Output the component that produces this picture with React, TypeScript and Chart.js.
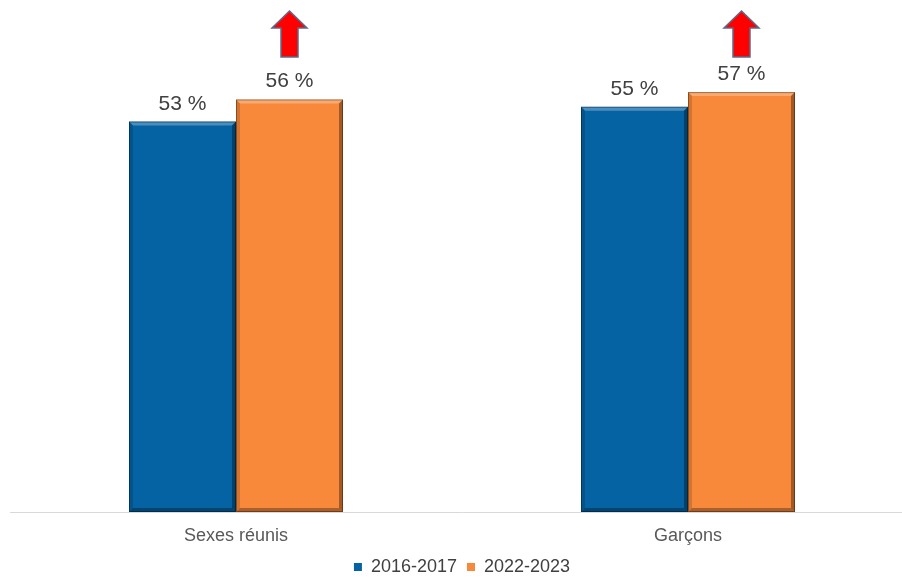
import React, { useEffect, useRef } from "react";
import { Chart, registerables } from "chart.js";

Chart.register(...registerables);

const categories = ["Sexes réunis", "Garçons"];
const seriesLabels = ["2016-2017", "2022-2023"];
const values2016 = [53, 55];
const values2022 = [56, 57];
const yMin = 0;
const yMax = 60;

const BLUE = "#0563A4";
const ORANGE = "#F8893B";
const FONT = "'Liberation Sans', Arial, sans-serif";

const bevelPlugin = {
  id: "bevel",
  afterDatasetsDraw(chart: any) {
    const ctx = chart.ctx;
    ctx.save();
    chart.data.datasets.forEach((_: any, di: number) => {
      const meta = chart.getDatasetMeta(di);
      meta.data.forEach((bar: any) => {
        const left = bar.x - bar.width / 2;
        const right = bar.x + bar.width / 2;
        const top = bar.y;
        const bottom = bar.base;
        const d = 4;
        const poly = (pts: number[][], color: string) => {
          ctx.beginPath();
          ctx.moveTo(pts[0][0], pts[0][1]);
          for (let i = 1; i < pts.length; i++) ctx.lineTo(pts[i][0], pts[i][1]);
          ctx.closePath();
          ctx.fillStyle = color;
          ctx.fill();
        };
        poly([[left, top], [right, top], [right - d, top + d], [left + d, top + d]], "rgba(255,255,255,0.28)");
        poly([[right, top], [right, bottom], [right - d, bottom - d], [right - d, top + d]], "rgba(0,0,0,0.35)");
        poly([[left, bottom], [right, bottom], [right - d, bottom - d], [left + d, bottom - d]], "rgba(0,0,0,0.3)");
        poly([[left, top], [left + d, top + d], [left + d, bottom - d], [left, bottom]], "rgba(0,0,0,0.15)");
        ctx.strokeStyle = "rgba(0,0,0,0.35)";
        ctx.lineWidth = 1;
        ctx.strokeRect(left + 0.5, top + 0.5, bar.width - 1, bottom - top - 1);
      });
    });
    ctx.restore();
  },
};

const labelsPlugin = {
  id: "valueLabels",
  afterDatasetsDraw(chart: any) {
    const ctx = chart.ctx;
    ctx.save();
    ctx.font = `21px ${FONT}`;
    ctx.fillStyle = "#404040";
    ctx.textAlign = "center";
    ctx.textBaseline = "alphabetic";
    chart.data.datasets.forEach((ds: any, di: number) => {
      const meta = chart.getDatasetMeta(di);
      meta.data.forEach((bar: any, i: number) => {
        ctx.fillText(`${ds.data[i]} %`, bar.x, bar.y - 12);
      });
    });
    ctx.restore();
  },
};

const arrowPlugin = {
  id: "arrows",
  afterDatasetsDraw(chart: any) {
    const ctx = chart.ctx;
    const meta = chart.getDatasetMeta(1);
    ctx.save();
    meta.data.forEach((bar: any, i: number) => {
      if (!(values2022[i] > values2016[i])) return;
      const cx = bar.x;
      const top = chart.chartArea.top - 59;
      ctx.beginPath();
      ctx.moveTo(cx, top);
      ctx.lineTo(cx + 17.5, top + 17);
      ctx.lineTo(cx + 8.5, top + 17);
      ctx.lineTo(cx + 8.5, top + 46);
      ctx.lineTo(cx - 8.5, top + 46);
      ctx.lineTo(cx - 8.5, top + 17);
      ctx.lineTo(cx - 17.5, top + 17);
      ctx.closePath();
      ctx.fillStyle = "#FF0000";
      ctx.fill();
      ctx.strokeStyle = "#5B6B8C";
      ctx.lineWidth = 1.5;
      ctx.stroke();
    });
    ctx.restore();
  },
};

export default function App() {
  const ref = useRef<HTMLCanvasElement | null>(null);

  useEffect(() => {
    if (!ref.current) return;
    Chart.defaults.font.family = FONT;
    const chart = new Chart(ref.current, {
      type: "bar",
      data: {
        labels: categories,
        datasets: [
          {
            label: seriesLabels[0],
            data: values2016,
            backgroundColor: BLUE,
            borderColor: "#03457A",
            borderWidth: 0,
            barPercentage: 1,
            categoryPercentage: 0.4735,
          },
          {
            label: seriesLabels[1],
            data: values2022,
            backgroundColor: ORANGE,
            borderColor: "#A8561C",
            borderWidth: 0,
            barPercentage: 1,
            categoryPercentage: 0.4735,
          },
        ],
      },
      options: {
        responsive: false,
        animation: false,
        devicePixelRatio: 1,
        layout: { padding: { top: 70, left: 10, right: 18, bottom: -9 } },
        plugins: {
          title: { display: false },
          tooltip: { enabled: false },
          legend: {
            display: true,
            position: "bottom",
            labels: {
              boxWidth: 8,
              boxHeight: 8,
              padding: 10,
              color: "#404040",
              font: { size: 18, family: FONT },
            },
          },
        },
        scales: {
          x: {
            grid: { display: false },
            border: { display: true, color: "#D9D9D9", width: 1 },
            ticks: {
              color: "#595959",
              font: { size: 18, family: FONT },
              padding: 5,
            },
            afterFit(scale: any) {
              const lg = scale.chart.legend ? scale.chart.legend.height : 0;
              scale.height = Math.max(0, 586 - 512 - lg);
            },
          },
          y: {
            display: false,
            min: yMin,
            max: yMax,
          },
        },
      },
      plugins: [bevelPlugin, labelsPlugin, arrowPlugin],
    } as any);
    return () => chart.destroy();
  }, []);

  return (
    <div style={{ position: "fixed", left: 0, top: 0, width: 932, height: 577, background: "#fff" }}>
      <canvas ref={ref} width={932} height={577} style={{ display: "block" }} />
    </div>
  );
}
